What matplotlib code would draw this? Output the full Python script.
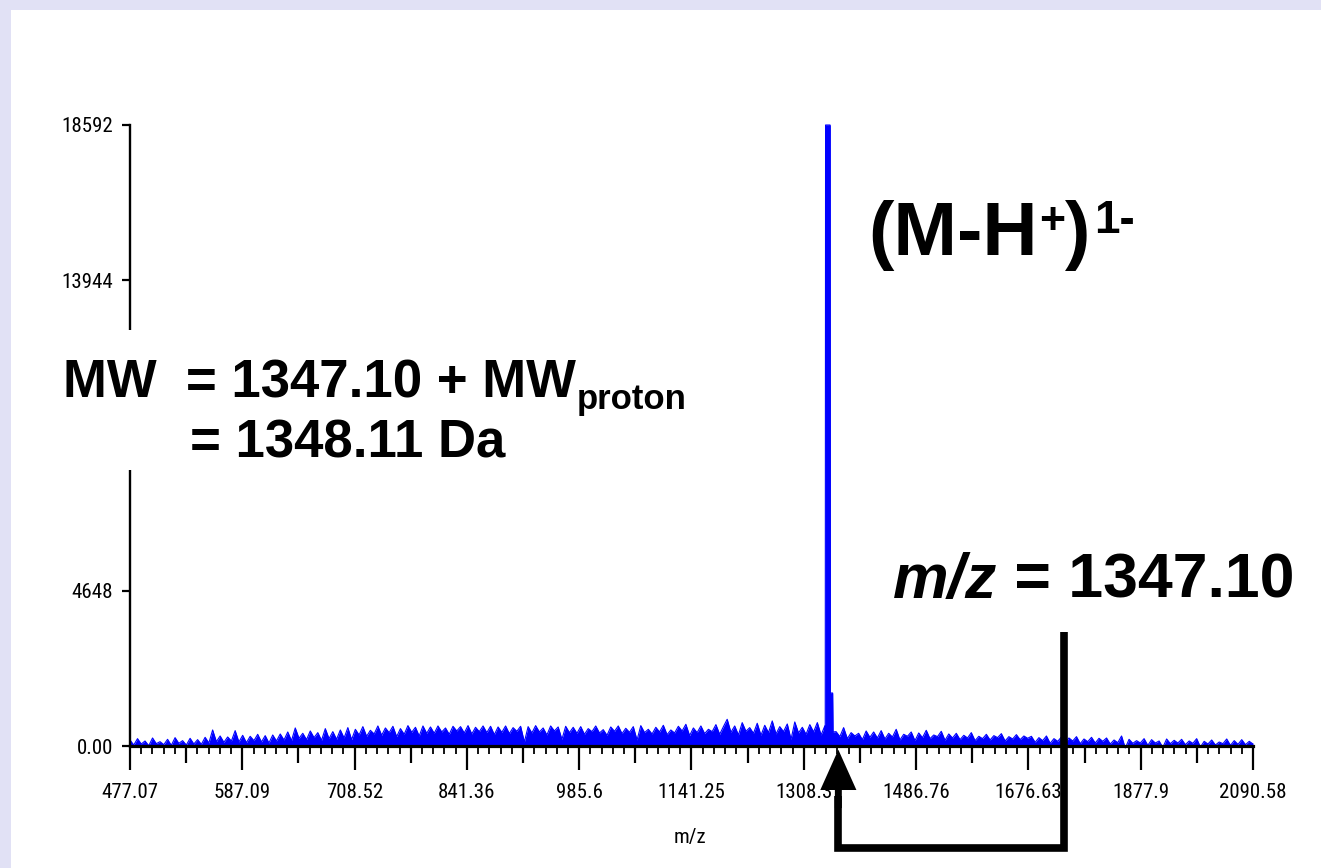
import os
import matplotlib.pyplot as plt
import numpy as np
from matplotlib import font_manager
from matplotlib.font_manager import FontProperties
from matplotlib.patches import Rectangle
from matplotlib.transforms import blended_transform_factory

# m/z axis of the TOF spectrum (flight time is linear in sqrt(m/z))
mz_ticks = [477.07, 587.09, 708.52, 841.36, 985.6, 1141.25, 1308.3,
            1486.76, 1676.63, 1877.9, 2090.58]
mz_tick_labels = ['477.07', '587.09', '708.52', '841.36', '985.6', '1141.25',
                  '1308.3', '1486.76', '1676.63', '1877.9', '2090.58']

# intensity axis
int_ticks = [0, 4648, 9296, 13944, 18592]
int_tick_labels = ['0.00', '4648', '9296', '13944', '18592']

# baseline / chemical noise, one value per flight-time bin
noise_int = [
    180, 30, 220, 60, 150, 10, 240, 70, 130, 40, 200, 20, 250, 80, 160, 30, 230, 60, 190, 50,
    260, 90, 480, 130, 300, 110, 270, 150, 460, 120, 320, 100, 290, 160, 350, 120, 310, 90, 330, 150,
    360, 180, 420, 160, 540, 230, 380, 190, 450, 250, 400, 170, 520, 220, 430, 200, 480, 240, 550, 190,
    500, 330, 580, 290, 470, 360, 600, 320, 540, 400, 590, 280, 520, 350, 610, 410, 560, 300, 600, 380,
    570, 380, 600, 420, 540, 350, 590, 450, 580, 390, 610, 360, 560, 430, 600, 400, 590, 340, 570, 410,
    600, 370, 550, 440, 590, 120, 580, 390, 610, 420, 540, 330, 600, 450, 570, 200, 590, 400, 560, 380,
    580, 350, 520, 430, 600, 390, 490, 320, 570, 440, 600, 370, 530, 410, 580, 180, 610, 400, 500, 360,
    560, 420, 620, 340, 480, 390, 590, 450, 650, 310, 540, 400, 600, 370, 500, 430, 640, 350, 580, 800,
    410, 600, 330, 700, 440, 550, 380, 680, 320, 620, 400, 750, 360, 580, 430, 660, 200, 720, 390, 560,
    350, 640, 420, 700, 330, 600, 440, 520, 430, 280, 550, 220, 400, 300, 380, 190, 450, 260, 420, 240,
    460, 210, 380, 270, 500, 180, 350, 290, 420, 160, 390, 250, 470, 220, 330, 280, 440, 170, 360, 240,
    380, 190, 320, 240, 400, 160, 290, 220, 350, 180, 310, 250, 370, 150, 280, 210, 340, 190, 300, 230,
    290, 110, 250, 160, 300, 80, 220, 140, 270, 100, 240, 150, 280, 70, 210, 130, 260, 90, 230, 140,
    240, 60, 180, 100, 300, -60, 200, 80, 160, 90, 220, 20, 190, 90, 150, -40, 210, 70, 170, 90,
    200, 40, 150, 80, 220, -30, 140, 60, 180, 30, 120, 70, 210, 20, 160, 50, 190, 40, 140, 60,
]

# (M-H+)1- molecular ion with its isotope shoulder
peak_mz = [1341.5, 1342.0, 1347.10, 1349.0, 1349.3, 1353.0, 1353.5]
peak_int = [450, 18592, 18592, 18592, 1587, 1587, 420]

arrow_mz = 1362
bracket_mz = 1739

W, H = 1321, 868
BLUE = '#0000FF'
LAVENDER = '#E1E1F5'

plt.rcParams['font.family'] = ['Liberation Sans', 'DejaVu Sans']


def narrow_font(size):
    # condensed sans for the axis numbers, plain Liberation Sans if none is installed
    files = [f.fname for f in font_manager.fontManager.ttflist]
    for pattern in ['liberationsansnarrow-regular', 'robotocondensed-regular',
                    'opensans_condensed-regular', 'opensanscondensed-regular',
                    'dejavusanscondensed.ttf']:
        for fn in files:
            if pattern in os.path.basename(fn).lower().replace(' ', ''):
                return FontProperties(fname=fn, size=size)
    return FontProperties(family='Liberation Sans', size=size * 0.85)


def fx(px):
    return px / W


def fy(py):
    return 1 - py / H


# spectrum on the flight-time grid
noise_mz = np.square(np.linspace(np.sqrt(mz_ticks[0]), np.sqrt(mz_ticks[-1]), len(noise_int)))
noise_int = np.array(noise_int, dtype=float)
keep = (noise_mz < peak_mz[0]) | (noise_mz > peak_mz[-1])
mz = np.concatenate([noise_mz[keep], peak_mz])
inten = np.concatenate([noise_int[keep], peak_int])
order = np.argsort(mz)
mz, inten = mz[order], inten[order]

fig = plt.figure(figsize=(W / 100, H / 100), dpi=100, facecolor=LAVENDER)
fig.add_artist(Rectangle((fx(11), 0), 1, fy(10), transform=fig.transFigure,
                         facecolor='white', edgecolor='none', zorder=-1))

ax = fig.add_axes([fx(130), 1 - 746 / H, 1123 / W, 621 / H])
ax.set_facecolor('none')
ax.set_xscale('function', functions=(np.sqrt, np.square))
ax.set_xlim(mz_ticks[0], mz_ticks[-1])
ax.set_ylim(0, int_ticks[-1])

ax.fill_between(mz, inten, 0, color=BLUE, lw=0, zorder=2)
ax.plot(mz, inten, color=BLUE, lw=0.8, clip_on=False, zorder=2)
ax.fill_between(peak_mz, peak_int, 0, color=BLUE, lw=0, zorder=2)

for s in ['top', 'right']:
    ax.spines[s].set_visible(False)
ax.spines['left'].set_linewidth(1.7)
ax.spines['bottom'].set_linewidth(2.3)

tick_fp = narrow_font(15)

# major ticks at labels and half-way points, minor every tenth (in flight time)
s = np.sqrt(mz_ticks)
half = np.square((s[:-1] + s[1:]) / 2)
major = np.sort(np.concatenate([mz_ticks, half]))
minor = np.square(np.concatenate([np.linspace(a, b, 11)[1:-1] for a, b in zip(s[:-1], s[1:])]))
major_labels = []
for i in range(len(major)):
    major_labels.append(mz_tick_labels[i // 2] if i % 2 == 0 else '')
ax.set_xticks(major)
ax.set_xticklabels(major_labels, fontproperties=tick_fp)
ax.set_xticks(minor, minor=True)
ax.tick_params(axis='x', which='major', length=17.3, width=1.6, pad=9, direction='out')
ax.tick_params(axis='x', which='minor', length=5.8, width=1.3, direction='out')
for i, tick in enumerate(ax.xaxis.get_major_ticks()):
    if i % 2 == 1:
        tick.tick1line.set_markersize(12.2)

ax.set_yticks(int_ticks)
ax.set_yticklabels(int_tick_labels, fontproperties=tick_fp)
ax.tick_params(axis='y', length=6, width=1.6, pad=6, direction='out')

ax.set_xlabel('m/z', fontproperties=tick_fp)
ax.xaxis.set_label_coords(0.4987, -0.132)

# bracket arrow from the annotation down under the axis to the ion
tr = blended_transform_factory(ax.transData, ax.transAxes)
ax.plot([bracket_mz, bracket_mz, arrow_mz, arrow_mz], [0.184, -0.164, -0.164, -0.08],
        transform=tr, color='k', lw=5.5, clip_on=False,
        solid_joinstyle='miter', solid_capstyle='butt', zorder=6)
ax.annotate('', xy=(arrow_mz, -0.006), xycoords=tr, xytext=(arrow_mz, -0.1), textcoords=tr,
            arrowprops=dict(facecolor='k', edgecolor='none', width=5, headwidth=26,
                            headlength=29, shrink=0),
            annotation_clip=False, zorder=6)

# white box behind the molecular weight text
ax.add_patch(Rectangle((fx(55), fy(470)), fx(650), 140 / H, transform=fig.transFigure,
                       facecolor='white', edgecolor='none', clip_on=False, zorder=4))

bold = dict(fontweight='bold', color='k', zorder=5, annotation_clip=False)
t_mw = ax.text(fx(63), fy(397), 'MW  = 1347.10 + MW', transform=fig.transFigure,
               fontsize=38, fontweight='bold', va='baseline', zorder=5)
ax.annotate('proton', xy=(1, fy(409)), xycoords=(t_mw, 'figure fraction'),
            xytext=(1, 0), textcoords='offset points', fontsize=25, va='baseline', **bold)
ax.text(fx(190), fy(457), '= 1348.11 Da', transform=fig.transFigure,
        fontsize=38, fontweight='bold', va='baseline', zorder=5)

t_a = ax.text(fx(868), fy(255), '(M-H', transform=fig.transFigure,
              fontsize=55, fontweight='bold', va='baseline', zorder=5)
t_b = ax.annotate('+', xy=(1, fy(234)), xycoords=(t_a, 'figure fraction'),
                  xytext=(1, 0), textcoords='offset points', fontsize=32, va='baseline', **bold)
t_c = ax.annotate(')', xy=(1, fy(255)), xycoords=(t_b, 'figure fraction'),
                  xytext=(0, 0), textcoords='offset points', fontsize=55, va='baseline', **bold)
ax.annotate('1-', xy=(1, fy(233)), xycoords=(t_c, 'figure fraction'),
            xytext=(3, 0), textcoords='offset points', fontsize=33, va='baseline', **bold)

t_m = ax.text(fx(893), fy(598), 'm/z', transform=fig.transFigure, fontsize=45,
              fontweight='bold', fontstyle='italic', va='baseline', zorder=5)
ax.annotate(' = 1347.10', xy=(1, fy(598)), xycoords=(t_m, 'figure fraction'),
            fontsize=45, va='baseline', **bold)

fig.savefig('out.png', dpi=100, facecolor=fig.get_facecolor())
